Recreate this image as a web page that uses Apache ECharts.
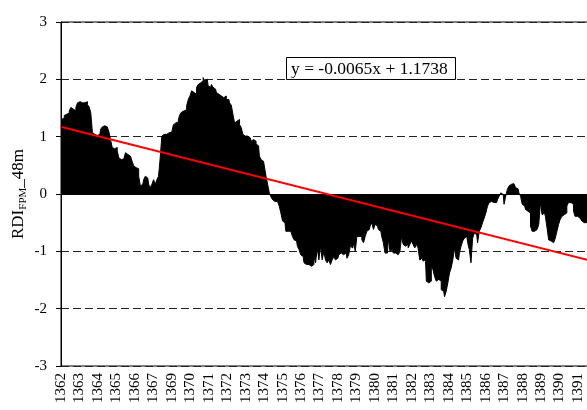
<!DOCTYPE html>
<html>
<head>
<meta charset="utf-8">
<script src="https://cdn.jsdelivr.net/npm/echarts@6/dist/echarts.min.js"></script>
<style>
  html, body { margin: 0; padding: 0; background: #fff; }
  #chart { width: 587px; height: 410px; }
</style>
</head>
<body>
<div id="chart"></div>
<script>
// year labels under the axis (1368 is missing in the original too)
const yearLabels = ['1362', '1363', '1364', '1365', '1366', '1367', '1369', '1370', '1371', '1372',
  '1373', '1374', '1375', '1376', '1377', '1378', '1379', '1380', '1381', '1382', '1383', '1384',
  '1385', '1386', '1387', '1388', '1389', '1390', '1391'];

// RDI_FPM_48m values left to right
const rdi = [
  1.30, 1.33, 1.37, 1.39, 1.41, 1.45, 1.51, 1.48, 1.45, 1.51, 1.59, 1.61, 1.59, 1.58, 1.59, 1.61,
  1.56, 1.52, 1.42, 1.07, 1.04, 1.02, 1.02, 1.04, 1.13, 1.17, 1.19, 1.17, 1.14, 1.08, 0.94, 0.81,
  0.79, 0.81, 0.75, 0.63, 0.60, 0.61, 0.63, 0.72, 0.69, 0.66, 0.63, 0.57, 0.49, 0.46, 0.44, 0.31,
  0.14, 0.17, 0.25, 0.31, 0.28, 0.17, 0.11, 0.17, 0.25, 0.17, 0.25, 0.31, 0.63, 1.01, 1.04, 1.04,

  1.07, 1.07, 1.08, 1.10, 1.21, 1.24, 1.26, 1.30, 1.39, 1.43, 1.45, 1.47, 1.54, 1.65, 1.71, 1.80,
  1.77, 1.74, 1.86, 1.91, 1.94, 1.97, 2.03, 1.97, 2.00, 1.89, 1.86, 1.91, 1.86, 1.83, 1.77, 1.74,
  1.71, 1.74, 1.68, 1.71, 1.65, 1.65, 1.59, 1.55, 1.39, 1.24, 1.27, 1.30, 1.21, 1.16, 1.04, 1.01,
  1.01, 1.01, 0.98, 0.92, 0.95, 0.92, 0.87, 0.84, 0.66, 0.60, 0.57, 0.49, 0.31, 0.17, 0.02, -0.05,

  -0.10, -0.13, -0.13, -0.14, -0.21, -0.33, -0.47, -0.50, -0.65, -0.65, -0.65, -0.68, -0.74, -0.80,
  -0.82, -0.91, -0.97, -1.06, -1.09, -1.20, -1.23, -1.23, -1.26, -1.26, -1.23, -1.09, -1.20, -0.94,
  -1.15, -0.91, -1.15, -1.00, -1.15, -1.20, -1.15, -1.23, -1.15, -1.09, -1.15, -1.12, -1.06, -1.03,
  -1.06, -1.09, -1.03, -1.12, -1.06, -0.91, -0.94, -0.85, -1.00, -0.74, -0.74, -0.74, -0.80, -0.85,
  -0.74, -0.65, -0.62, -0.56, -0.50, -0.62, -0.53,

  -0.56, -0.62, -0.65, -0.74, -0.85, -1.03, -1.03, -0.77, -1.00, -0.97, -1.03, -1.03, -1.06, -1.06,
  -1.00, -0.74, -0.88, -0.91, -0.88, -0.94, -0.88, -0.82, -0.88, -0.94, -0.88, -0.94, -1.15, -1.12,
  -1.17, -1.15, -1.52, -1.55, -1.52, -1.26, -1.32, -1.44, -1.52, -1.49, -1.52, -1.67, -1.70, -1.79,
  -1.70, -1.55, -1.38, -1.29, -1.15, -0.94, -1.12, -1.15, -1.03, -0.91, -0.82, -0.77, -0.74, -0.85,
  -0.97, -1.20, -0.77, -0.68, -0.71, -0.85, -0.65, -0.59,

  -0.50, -0.42, -0.33, -0.21, -0.15, -0.13, -0.15, -0.13, -0.15, -0.10, -0.04, 0.02, -0.01, -0.18,
  -0.04, 0.08, 0.14, 0.17, 0.18, 0.18, 0.11, 0.09, 0.02, -0.04, -0.18, -0.21, -0.27, -0.30, -0.33,
  -0.56, -0.65, -0.65, -0.62, -0.65, -0.53, -0.15, -0.36, -0.33, -0.39, -0.59, -0.80, -0.82, -0.85,
  -0.85, -0.77, -0.65, -0.53, -0.44, -0.39, -0.36, -0.33, -0.21, -0.15, -0.15, -0.18, -0.30, -0.39,
  -0.39, -0.42, -0.44, -0.47, -0.50, -0.50, -0.51, -0.52
];

// linear trend, ends
const trendStart = 1.167;
const trendEnd = -1.155;
const equationText = 'y = -0.0065x + 1.1738';

const months = rdi.map((v, i) => i);

const chartDom = document.getElementById('chart');
const myChart = echarts.init(chartDom);

const serif = 'Liberation Serif';

const option = {
  animation: false,
  title: {
    text: equationText,
    left: 286,
    top: 57,
    padding: [3, 8, 2, 5],
    borderColor: '#000',
    borderWidth: 1,
    backgroundColor: '#fff',
    textStyle: {
      fontFamily: serif,
      fontSize: 17.5,
      fontWeight: 'normal',
      color: '#000'
    }
  },
  grid: {
    left: 61,
    top: 22,
    right: -3,
    bottom: 44,
    outerBoundsMode: 'none',
    show: true,
    borderColor: '#000',
    borderWidth: 1
  },
  xAxis: [
    {
      type: 'category',
      data: months,
      axisLine: { lineStyle: { color: '#000', width: 1 } },
      axisTick: { show: false },
      axisLabel: { show: false },
      splitLine: { show: false }
    },
    {
      type: 'value',
      position: 'bottom',
      min: 0,
      max: 28.65,
      interval: 1,
      axisLine: { show: false },
      axisTick: { show: false },
      splitLine: { show: false },
      axisLabel: {
        rotate: 90,
        margin: 7,
        fontFamily: serif,
        fontSize: 15,
        color: '#000',
        showMaxLabel: false,
        formatter: function (value) {
          return yearLabels[value] || '';
        }
      }
    }
  ],
  yAxis: {
    type: 'value',
    min: -3,
    max: 3,
    interval: 1,
    name: '{a|RDI}{b|FPM}{a|_48m}',
    nameLocation: 'middle',
    nameGap: 32,
    nameMoveOverlap: false,
    nameTextStyle: {
      rich: {
        a: { fontFamily: serif, fontSize: 17, color: '#000', lineHeight: 20, verticalAlign: 'middle' },
        b: { fontFamily: serif, fontSize: 11, color: '#000', lineHeight: 12, verticalAlign: 'bottom' }
      }
    },
    axisLine: { show: true, lineStyle: { color: '#000', width: 1 } },
    axisTick: { show: true, length: 5, lineStyle: { color: '#000' } },
    axisLabel: {
      margin: 14,
      fontFamily: serif,
      fontSize: 15,
      color: '#000'
    },
    splitLine: {
      show: true,
      lineStyle: { color: '#222', width: 1, type: [8, 4] }
    }
  },
  series: [
    {
      // monthly bars, drawn as a stepped filled outline so no seams show between them
      type: 'line',
      data: rdi,
      xAxisIndex: 0,
      step: 'middle',
      symbol: 'none',
      lineStyle: { color: '#000', width: 1 },
      areaStyle: { color: '#000', opacity: 1, origin: 0 }
    },
    {
      type: 'line',
      xAxisIndex: 0,
      data: [[0, trendStart], [rdi.length - 1, trendEnd]],
      symbol: 'none',
      lineStyle: { color: '#ff0000', width: 2 },
      z: 5
    }
  ]
};

myChart.setOption(option);
</script>
</body>
</html>
